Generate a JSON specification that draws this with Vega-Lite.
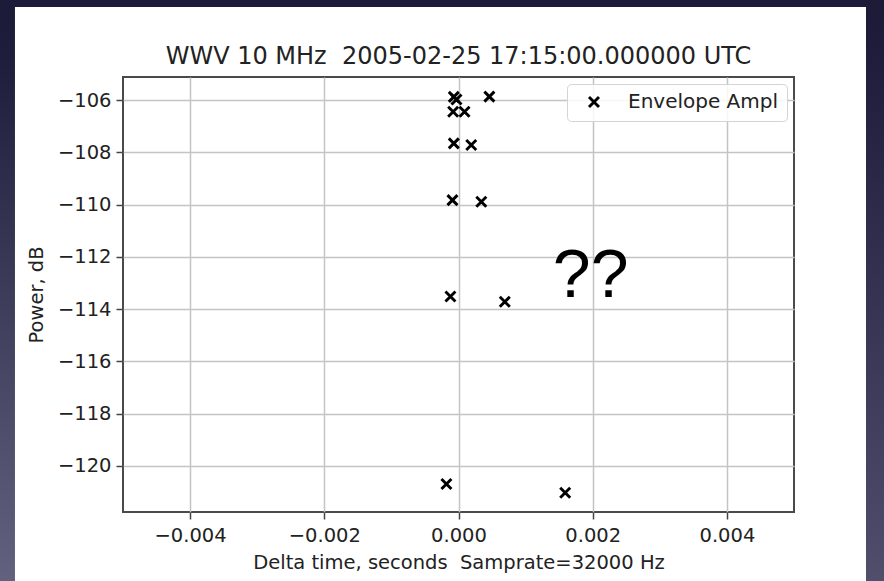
{
  "$schema": "https://vega.github.io/schema/vega-lite/v6.json",
  "autosize": {"type": "none"},
  "width": 671,
  "height": 435,
  "padding": {"left": 123, "top": 77, "right": 90, "bottom": 69},
  "background": "white",
  "title": {
    "text": "WWV 10 MHz\u00a0 2005-02-25 17:15:00.000000 UTC",
    "font": "DejaVu Sans",
    "fontSize": 24,
    "fontWeight": "normal",
    "color": "#222222",
    "anchor": "middle",
    "frame": "group",
    "baseline": "alphabetic",
    "offset": -88
  },
  "config": {
    "view": {"stroke": "#4a4a4a", "strokeWidth": 2},
    "axis": {
      "domain": false,
      "labelFont": "DejaVu Sans",
      "labelFontSize": 19.5,
      "labelColor": "#222222",
      "titleFont": "DejaVu Sans",
      "titleFontSize": 19.5,
      "titleFontWeight": "normal",
      "titleColor": "#222222",
      "tickColor": "#444444",
      "tickSize": 7,
      "tickWidth": 1.5,
      "gridColor": "#c4c4c4",
      "gridWidth": 1.5,
      "labelPadding": 5
    }
  },
  "datasets": {
    "envelope": [
      {"dt": -0.00018, "power": -120.69},
      {"dt": 0.00159, "power": -121.02},
      {"dt": -0.00012, "power": -113.52},
      {"dt": 0.00069, "power": -113.72},
      {"dt": -0.00009, "power": -109.83},
      {"dt": 0.00034, "power": -109.89},
      {"dt": -0.00007, "power": -107.66},
      {"dt": 0.00019, "power": -107.72},
      {"dt": -0.00008, "power": -106.45},
      {"dt": 0.00009, "power": -106.45},
      {"dt": -0.00007, "power": -105.88},
      {"dt": -0.00003, "power": -105.98},
      {"dt": 0.00046, "power": -105.87}
    ]
  },
  "layer": [
    {
      "data": {"name": "envelope"},
      "mark": {
        "type": "point",
        "filled": false,
        "color": "black",
        "strokeWidth": 2.9,
        "size": 100,
        "opacity": 1
      },
      "encoding": {
        "x": {
          "field": "dt",
          "type": "quantitative",
          "scale": {"domain": [-0.005, 0.005], "nice": false, "zero": false},
          "axis": {
            "title": "Delta time, seconds\u00a0 Samprate=32000 Hz",
            "values": [-0.004, -0.002, 0, 0.002, 0.004],
            "format": ".3f",
            "labelPadding": 7,
            "titlePadding": 9
          }
        },
        "y": {
          "field": "power",
          "type": "quantitative",
          "scale": {"domain": [-121.76, -105.12], "nice": false, "zero": false},
          "axis": {
            "title": "Power, dB",
            "values": [-120, -118, -116, -114, -112, -110, -108, -106],
            "format": "d",
            "titlePadding": 11
          }
        },
        "shape": {
          "datum": "Envelope Ampl",
          "scale": {"range": ["M-1,-1L1,1M-1,1L1,-1"]},
          "legend": {
            "title": null,
            "orient": "top-right",
            "offset": 7,
            "padding": 8,
            "fillColor": "rgba(255,255,255,0.85)",
            "strokeColor": "#d4d4d4",
            "cornerRadius": 4,
            "labelFont": "DejaVu Sans",
            "labelFontSize": 20,
            "labelColor": "#222222",
            "symbolSize": 100,
            "symbolStrokeWidth": 2.9,
            "symbolStrokeColor": "black",
            "symbolFillColor": "transparent",
            "symbolOffset": 9,
            "labelOffset": 24
          }
        }
      }
    },
    {
      "data": {"values": [{}]},
      "mark": {
        "type": "text",
        "text": "??",
        "font": "Liberation Sans",
        "fontSize": 68,
        "align": "center",
        "baseline": "alphabetic",
        "color": "black"
      },
      "encoding": {
        "x": {"datum": 0.00197, "type": "quantitative"},
        "y": {"datum": -113.54, "type": "quantitative"}
      }
    },
    {
      "data": {"values": [{}]},
      "mark": {
        "type": "rect",
        "fill": {
          "gradient": "linear", "x1": 0, "y1": 0, "x2": 0, "y2": 1,
          "stops": [
            {"offset": 0, "color": "#1b1b38"},
            {"offset": 0.1, "color": "#1e1e3c"},
            {"offset": 0.95, "color": "#5e5e7b"},
            {"offset": 1, "color": "#62627e"}
          ]
        }
      },
      "encoding": {
        "x": {"datum": -0.0075, "type": "quantitative"},
        "x2": {"datum": -0.00661},
        "y": {"datum": -124.4, "type": "quantitative"},
        "y2": {"datum": -102.175}
      }
    },
    {
      "data": {"values": [{}]},
      "mark": {"type": "rect", "fill": "#1c1c3a"},
      "encoding": {
        "x": {"datum": -0.0075, "type": "quantitative"},
        "x2": {"datum": 0.0072},
        "y": {"datum": -102.442, "type": "quantitative"},
        "y2": {"datum": -102.175}
      }
    },
    {
      "data": {"values": [{}]},
      "mark": {
        "type": "rect",
        "fill": {
          "gradient": "linear", "x1": 0, "y1": 0, "x2": 0, "y2": 1,
          "stops": [
            {"offset": 0, "color": "#1b1b38"},
            {"offset": 0.1, "color": "#1e1e3c"},
            {"offset": 0.95, "color": "#4c4c6a"},
            {"offset": 1, "color": "#50506c"}
          ]
        }
      },
      "encoding": {
        "x": {"datum": 0.006073, "type": "quantitative"},
        "x2": {"datum": 0.0072},
        "y": {"datum": -124.4, "type": "quantitative"},
        "y2": {"datum": -102.175}
      }
    }
  ]
}
